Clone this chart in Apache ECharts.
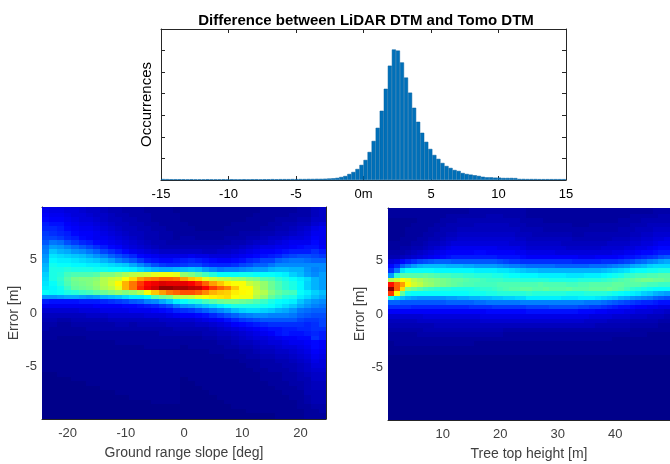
<!DOCTYPE html>
<html>
<head>
<meta charset="utf-8">
<style>html,body{margin:0;padding:0;background:#fff}#c{width:670px;height:464px}</style>
<script src="https://cdn.jsdelivr.net/npm/echarts@6/dist/echarts.min.js"></script>
</head>
<body>
<div id="c"></div>
<script>
const titleText = 'Difference between LiDAR DTM and Tomo DTM';
const histTickValues = [-15,-10,-5,0,5,10,15];
const histTickLabels = ['-15','-10','-5','0m','5','10','15'];
const histStart = -15, histBin = 0.3;
const histCounts = [45,40,35,35,35,35,30,35,30,30,30,35,30,30,30,35,30,35,30,30,35,30,35,35,30,35,35,40,35,40,40,40,45,40,45,45,50,50,55,55,
60,70,80,100,140,186,280,372,510,700,930,1300,1810,2420,3210,4230,5300,6050,6000,5450,4750,4050,3350,2700,2190,1770,1440,1160,980,790,650,560,465,420,325,280,250,220,190,150,125,125,110,110,95,95,95,90,50,50,45,45,45,40,40,40,40,40,40,40];
const slopeTicks = [-20,-10,0,10,20];
const heightTicks = [10,20,30,40];
const errorTicks = [-5,0,5];
const slopeStart = -23.75, slopeStep = 1.25;
const heightStart = 1, heightStep = 1;
const errorTop = 10, errorStep = 20/47;
// colour levels 0..100, rows from top (error +10 m) to bottom (-10 m)
const slopeGrid = [
[10,10,9,9,8,8,7,6,6,5,5,4,4,4,3,3,3,3,2,2,2,2,2,2,2,2,2,2,2,2,3,3,3,3,3,4,4,6,7],
[11,10,10,9,9,8,7,7,6,5,5,4,4,4,3,3,3,3,2,2,2,2,2,2,2,2,2,2,2,2,3,3,3,3,3,4,4,6,7],
[12,11,11,10,9,9,8,7,7,6,5,5,4,4,4,3,3,3,3,2,2,2,2,2,2,2,2,2,2,3,3,3,3,3,4,4,4,6,7],
[13,12,12,11,10,9,9,8,7,6,6,5,5,4,4,3,3,3,3,2,2,2,2,2,2,2,2,2,3,3,3,3,4,4,4,5,5,7,7],
[15,14,14,12,11,10,10,9,8,7,6,6,5,5,4,4,3,3,3,3,2,2,2,2,2,2,3,3,3,3,3,4,4,5,5,6,6,8,9],
[16,16,15,13,12,11,11,10,9,8,7,6,6,5,5,4,4,3,3,3,3,2,2,2,2,3,3,3,3,3,4,4,5,5,6,7,8,10,11],
[18,17,16,15,13,12,12,11,10,9,8,7,6,6,5,5,4,4,3,3,3,3,3,3,3,3,3,4,4,4,5,5,6,6,7,8,9,11,11],
[19,19,18,16,15,13,12,11,11,10,9,8,7,6,5,5,4,4,3,4,4,3,3,3,3,4,4,4,5,5,6,7,7,8,9,9,10,12,11],
[21,24,23,20,18,16,15,13,12,11,10,9,8,7,6,5,5,4,4,4,4,4,4,4,4,4,5,5,6,7,7,8,9,10,11,11,11,13,11],
[24,28,27,25,23,21,19,17,15,13,12,10,9,8,7,6,5,5,5,5,5,5,5,5,5,6,6,7,8,9,10,10,11,11,12,13,14,14,12],
[25,32,30,29,27,26,24,22,19,17,15,13,11,10,9,8,7,7,7,7,7,7,6,6,7,7,8,9,10,11,12,12,13,14,15,15,15,17,15],
[27,35,34,33,32,31,29,27,25,22,20,18,16,13,12,11,10,10,10,10,11,10,10,9,9,9,10,11,12,13,14,15,16,18,19,20,20,19,18],
[28,37,36,36,35,34,33,32,30,28,25,23,21,18,15,14,13,13,14,15,16,15,14,13,12,12,13,14,16,17,19,19,22,23,24,24,23,22,22],
[30,39,38,38,37,37,36,36,35,34,33,32,29,26,23,20,18,17,17,18,19,19,17,16,16,16,17,19,20,22,22,24,26,26,26,26,26,26,26],
[31,40,40,41,40,40,40,39,39,38,38,37,36,34,32,30,29,29,30,31,32,31,28,26,24,25,25,26,27,28,28,30,31,31,30,30,27,25,26],
[33,40,41,44,45,45,45,46,50,50,52,54,56,57,58,60,61,61,60,52,50,47,44,41,38,38,38,39,39,38,38,38,37,36,33,31,28,26,28],
[34,40,42,46,49,50,50,51,55,57,58,62,66,72,75,76,78,78,77,72,68,66,60,58,56,55,53,52,50,49,46,45,42,40,38,36,34,30,28],
[35,38,41,45,48,49,50,52,55,58,63,70,76,82,87,89,91,90,90,90,88,84,78,72,68,64,62,62,57,55,52,48,45,42,40,37,33,30,28],
[36,37,39,43,47,48,49,51,54,56,60,70,76,84,89,92,98,98,96,96,94,93,88,82,78,75,68,62,62,56,52,48,45,42,40,37,33,30,28],
[38,37,38,40,41,43,44,46,48,50,52,50,52,55,62,68,72,76,78,80,80,78,74,70,68,67,64,63,62,57,55,50,47,45,44,38,36,33,31],
[27,27,28,29,29,28,27,28,30,31,32,34,36,36,38,45,48,50,55,56,57,60,62,64,65,66,62,61,61,55,52,47,44,41,40,36,34,31,29],
[15,14,14,14,14,15,15,15,16,17,18,19,21,22,25,26,29,32,36,38,40,41,44,46,48,49,49,48,47,45,43,40,38,37,36,32,29,27,26],
[11,11,11,11,11,11,11,12,12,12,12,13,13,14,15,16,18,20,24,27,28,30,32,34,36,38,40,40,40,40,39,38,36,34,32,29,27,25,24],
[8,8,8,8,8,9,9,9,10,10,10,10,11,11,11,12,13,14,16,17,18,20,22,24,26,28,31,33,34,34,33,32,30,29,27,24,23,22,22],
[6,6,6,6,6,6,7,7,7,8,8,8,8,8,9,9,9,10,11,12,12,13,14,16,18,20,22,24,25,26,26,25,25,25,24,22,21,20,20],
[5,5,4,4,5,5,5,5,5,6,6,6,6,6,6,6,7,7,7,8,8,9,10,11,12,14,16,18,19,20,21,21,21,21,21,19,18,18,19],
[4,4,3,3,4,4,4,4,4,4,5,5,4,5,5,5,5,6,6,6,6,7,7,8,9,10,12,13,14,15,16,17,17,17,17,17,16,17,19],
[4,3,3,3,3,3,4,4,4,4,4,4,4,4,4,4,4,4,5,5,5,5,5,6,7,8,9,10,11,12,13,14,14,15,15,16,16,17,17],
[3,3,3,3,3,3,3,3,3,3,3,3,3,3,3,3,4,4,4,4,4,4,5,5,6,6,7,8,9,10,11,12,14,15,14,14,15,16,15],
[3,3,2,2,2,2,3,3,3,3,3,3,3,3,3,3,3,3,3,3,3,3,4,4,5,5,6,7,8,9,9,10,11,12,12,13,13,17,15],
[2,2,2,2,2,2,2,2,2,2,3,3,3,3,3,3,3,3,3,3,3,3,3,3,4,4,5,6,6,7,8,9,9,10,11,11,12,13,12],
[2,2,2,2,2,2,2,2,2,2,2,2,2,2,3,3,3,3,3,2,3,3,3,3,3,4,4,5,5,6,7,7,8,9,9,10,11,13,12],
[2,2,2,2,2,2,2,2,2,2,2,2,2,2,2,2,2,2,2,2,2,2,2,3,3,3,3,4,4,5,6,6,7,7,8,9,10,12,11],
[2,2,2,2,2,2,2,2,2,2,2,2,2,2,2,2,2,2,2,2,2,2,2,2,2,3,3,3,4,4,5,5,6,6,7,8,9,11,10],
[2,2,2,2,2,2,2,2,2,2,2,2,2,2,2,2,2,2,2,2,2,2,2,2,2,2,2,3,3,3,4,4,5,5,6,7,8,10,9],
[2,2,2,2,2,2,2,2,2,2,2,2,2,2,2,2,2,2,2,2,2,2,2,2,2,2,2,2,3,3,4,4,4,5,5,6,7,9,9],
[2,2,2,2,2,2,2,2,2,2,2,2,2,2,2,2,2,2,2,2,2,2,2,2,2,2,2,2,2,3,3,4,4,4,5,6,7,8,8],
[1,1,2,2,2,2,2,2,2,2,2,2,2,2,2,2,2,2,2,2,2,2,2,2,2,2,2,2,2,2,3,3,3,4,4,5,6,7,7],
[1,1,1,1,2,2,2,2,2,2,2,2,2,2,2,2,2,2,2,1,2,2,2,2,2,2,2,2,2,2,3,3,3,4,4,5,5,7,7],
[1,1,1,1,1,1,2,2,2,2,2,2,2,2,2,2,2,2,2,1,1,2,2,2,2,2,2,2,2,2,2,3,3,3,4,4,5,6,6],
[1,1,1,1,1,1,1,1,2,2,2,2,2,2,2,2,2,2,2,1,1,1,2,2,2,2,2,2,2,2,2,2,3,3,3,4,5,6,6],
[1,1,1,1,1,1,1,1,1,1,2,2,2,2,2,2,2,2,2,1,1,1,1,2,2,2,2,2,2,2,2,2,2,3,3,3,5,5,5],
[1,1,1,1,1,1,1,1,1,1,1,1,2,2,2,2,2,2,2,1,1,1,1,1,2,2,2,2,2,2,2,2,2,2,3,3,4,5,5],
[1,1,1,1,1,1,1,1,1,1,1,1,1,1,1,2,2,2,2,1,1,1,1,1,1,2,2,2,2,2,2,2,2,2,2,3,4,5,5],
[1,1,1,1,1,1,1,1,1,1,1,1,1,1,1,1,1,1,1,1,1,1,1,1,1,1,2,2,2,2,2,2,2,2,2,3,3,4,4],
[1,1,1,1,1,1,1,1,1,1,1,1,1,1,1,1,1,1,1,1,1,1,1,1,1,1,1,1,2,2,2,2,2,2,2,2,3,3,4],
[1,1,1,1,1,1,1,1,1,1,1,1,1,1,1,1,1,1,1,1,1,1,1,1,1,1,1,1,1,1,1,1,2,2,2,2,3,3,3],
[1,1,1,1,1,1,1,1,1,1,1,1,1,1,1,1,1,1,1,1,1,1,1,1,1,1,1,1,1,1,1,1,2,2,2,2,3,3,3]
];
const heightGrid = [
[3,3,3,3,3,3,3,3,3,3,3,3,3,3,4,4,4,4,4,4,4,4,4,4,3,3,3,3,3,3,3,3,3,3,3,3,3,3,3,3,3,3,3,3,3,3,4,4,4],
[3,3,3,3,3,3,3,3,3,3,3,3,3,3,4,4,4,4,4,4,4,4,4,4,3,3,3,3,3,3,3,3,3,3,3,3,3,3,3,3,3,3,3,3,3,3,4,4,4],
[3,3,3,3,3,3,3,3,3,3,4,4,4,4,4,4,4,5,5,5,4,4,4,4,3,3,3,3,3,3,3,3,3,3,3,3,3,3,3,3,3,3,4,4,4,4,4,5,5],
[2,2,2,2,2,3,3,3,3,4,4,4,5,5,5,5,5,5,5,5,5,5,5,4,4,4,4,3,3,3,3,3,3,3,3,3,3,3,3,3,4,4,4,4,5,5,5,5,5],
[2,2,2,2,3,3,3,3,4,4,5,5,5,5,5,6,6,6,6,6,6,5,5,5,4,4,4,4,4,4,4,4,3,3,3,4,4,4,4,4,4,4,5,5,5,6,6,6,6],
[2,2,2,3,3,3,3,4,4,5,5,5,6,6,6,6,6,6,6,6,6,6,6,5,5,5,5,4,4,4,4,4,4,4,4,4,4,4,4,4,5,5,5,6,6,6,7,7,7],
[2,2,2,3,3,3,4,4,5,5,6,6,7,7,7,7,7,7,7,7,7,7,6,6,6,5,5,5,5,5,5,5,4,4,5,5,5,5,5,5,5,5,6,6,7,7,8,8,8],
[2,2,3,3,3,4,4,5,5,6,7,7,8,8,8,8,8,8,8,8,8,8,7,7,6,6,6,6,6,6,6,6,5,5,5,5,5,5,5,6,6,6,7,7,8,8,9,9,10],
[3,3,3,3,4,4,5,6,6,7,8,9,9,9,9,9,9,9,9,9,9,8,8,8,7,7,7,7,7,7,6,6,6,6,6,6,6,6,7,7,7,7,8,8,9,9,10,11,11],
[3,3,4,4,5,5,6,7,8,9,10,11,11,11,11,11,11,11,11,10,10,10,10,9,8,8,8,8,8,8,8,7,7,7,7,7,7,8,8,8,8,9,9,10,10,11,12,13,13],
[4,4,4,5,6,7,8,9,10,11,12,12,12,12,12,13,13,12,12,12,12,12,11,11,10,10,10,10,10,9,9,9,9,9,9,9,9,9,9,10,10,11,11,12,13,13,14,15,15],
[5,5,6,7,8,9,10,11,12,13,14,15,15,15,15,15,15,15,15,14,14,14,14,13,12,12,12,12,12,12,12,12,12,11,11,11,12,12,12,12,13,14,14,15,16,17,18,20,21],
[9,10,13,15,17,19,20,21,22,22,22,21,21,21,21,21,21,21,21,20,19,18,18,17,17,17,17,17,17,17,17,17,16,16,16,16,16,17,17,17,18,19,20,22,23,25,26,28,29],
[13,16,22,25,28,30,31,31,31,31,30,30,30,29,29,28,28,28,28,27,26,25,25,24,23,23,23,23,23,22,22,22,22,22,22,23,23,23,24,25,26,27,29,30,31,33,34,34,34],
[17,24,35,38,38,38,38,38,37,37,37,37,37,37,37,36,36,36,36,35,35,34,33,32,31,31,30,30,30,30,30,30,30,30,30,30,30,31,32,33,34,35,37,38,38,39,39,40,40],
[28,42,46,46,46,46,47,46,45,44,44,43,43,42,42,41,41,41,40,40,39,38,38,37,37,37,36,36,36,36,36,35,35,35,36,36,36,37,38,39,40,42,43,44,44,45,45,46,46],
[55,58,62,60,56,54,52,51,50,49,48,47,47,46,45,45,44,43,43,43,42,42,42,41,41,41,41,41,40,40,40,40,40,41,41,41,41,42,43,44,45,46,47,48,49,49,48,48,47],
[86,78,72,63,58,56,53,52,50,49,48,47,46,45,45,44,44,44,44,45,45,45,45,45,45,45,46,45,45,45,45,44,44,45,45,46,46,46,46,47,47,46,46,46,45,44,44,43,43],
[98,78,66,50,48,46,44,43,42,41,41,40,40,40,40,41,42,42,43,44,45,46,46,47,47,46,46,47,46,46,46,47,46,46,46,47,47,47,48,47,46,44,42,41,40,39,38,38,38],
[82,62,47,39,38,38,38,38,38,38,38,38,38,38,39,39,39,40,40,41,41,41,41,41,42,41,41,41,41,41,41,40,40,40,41,41,41,41,40,39,38,37,36,35,33,32,30,29,28],
[40,34,31,29,28,27,27,27,27,27,28,28,29,29,30,30,31,31,32,32,33,33,34,34,36,36,36,36,36,36,35,35,35,36,36,36,35,34,33,32,30,29,27,26,25,24,22,21,20],
[22,22,21,21,21,21,21,21,21,21,22,22,22,22,22,23,23,24,24,24,24,24,24,25,25,25,25,25,25,25,25,25,25,25,24,24,24,23,22,21,20,19,18,17,16,16,15,14,14],
[17,17,17,17,16,16,16,16,16,16,16,16,16,16,17,17,17,17,18,18,18,18,18,18,19,19,19,19,20,20,20,20,20,19,19,18,18,17,16,15,14,14,13,12,12,11,11,10,10],
[12,12,12,12,12,12,12,12,12,12,12,12,12,12,12,12,12,13,13,13,13,13,13,13,14,14,14,14,14,14,14,14,14,13,13,13,12,12,11,11,11,10,10,9,9,9,8,8,7],
[8,8,8,8,8,8,9,9,9,9,9,9,9,9,9,9,10,10,10,10,10,10,10,10,10,10,10,10,10,10,10,10,10,10,10,9,9,9,9,8,8,8,7,7,7,6,6,6,5],
[6,6,6,6,6,7,7,7,7,7,7,7,7,7,7,7,8,8,8,8,8,8,8,8,8,8,8,8,8,8,8,8,8,8,7,7,7,7,6,6,6,6,5,5,5,5,5,4,4],
[5,5,5,5,5,5,5,5,6,6,6,6,6,6,6,6,6,6,6,6,6,6,6,6,6,6,6,6,6,6,6,6,6,6,6,6,5,5,5,5,5,5,4,4,4,4,4,3,3],
[4,4,4,4,4,4,5,5,5,5,5,5,5,5,5,5,5,5,5,5,4,4,4,4,4,4,4,4,4,4,4,4,4,4,4,4,4,4,4,4,4,4,3,3,3,3,3,3,3],
[3,3,3,3,3,4,4,4,4,4,4,4,4,4,4,4,4,4,4,4,3,3,3,3,3,3,3,3,3,3,3,3,3,3,3,3,3,3,3,3,3,3,3,3,3,2,2,2,2],
[3,3,3,3,3,3,3,3,3,3,3,3,3,3,3,3,3,3,3,3,3,3,3,3,3,3,3,3,3,3,3,3,3,3,3,3,3,3,3,2,2,2,2,2,2,2,2,2,2],
[2,3,3,3,3,3,3,3,3,3,3,3,3,3,3,2,2,2,2,2,2,2,2,2,2,2,2,2,2,2,2,2,2,2,2,2,2,2,2,2,2,2,2,2,2,2,2,2,2],
[2,2,2,2,2,2,2,2,2,2,2,2,2,2,2,2,2,2,2,2,2,2,2,2,2,2,2,2,2,2,2,2,2,2,2,2,2,2,2,2,2,2,2,2,2,2,2,2,2],
[2,2,2,2,2,2,2,2,2,2,2,2,2,2,2,2,2,2,2,2,2,2,2,2,2,2,2,2,2,2,2,2,2,2,2,2,2,2,2,2,2,2,2,2,2,2,2,2,2],
[1,1,1,1,1,1,1,1,1,1,1,1,1,1,1,1,1,1,1,1,1,1,1,1,1,1,1,1,1,1,1,1,1,1,1,1,1,1,1,1,1,1,1,1,1,1,1,1,1],
[1,1,1,1,1,1,1,1,1,1,1,1,1,1,1,1,1,1,1,1,1,1,1,1,1,1,1,1,1,1,1,1,1,1,1,1,1,1,1,1,1,1,1,1,1,1,1,1,1],
[1,1,1,1,1,1,1,1,1,1,1,1,1,1,1,1,1,1,1,1,1,1,1,1,1,1,1,1,1,1,1,1,1,1,1,1,1,1,1,1,1,1,1,1,1,1,1,1,1],
[1,1,1,1,1,1,1,1,1,1,1,1,1,1,1,1,1,1,1,1,1,1,1,1,1,1,1,1,1,1,1,1,1,1,1,1,1,1,1,1,1,1,1,1,1,1,1,1,1],
[1,1,1,1,1,1,1,1,1,1,1,1,1,1,1,1,1,1,1,1,1,1,1,1,1,1,1,1,1,1,1,1,1,1,1,1,1,1,1,1,1,1,1,1,1,1,1,1,1],
[1,1,1,1,1,1,1,1,1,1,1,1,1,1,1,1,1,1,1,1,1,1,1,1,1,1,1,1,1,1,1,1,1,1,1,1,1,1,1,1,1,1,1,1,1,1,1,1,1],
[1,1,1,1,1,1,1,1,1,1,1,1,1,1,1,1,1,1,1,1,1,1,1,1,1,1,1,1,1,1,1,1,1,1,1,1,1,1,1,1,1,1,1,1,1,1,1,1,1],
[1,1,1,1,1,1,1,1,1,1,1,1,1,1,1,1,1,1,1,1,1,1,1,1,1,1,1,1,1,1,1,1,1,1,1,1,1,1,1,1,1,1,1,1,1,1,1,1,1],
[1,1,1,1,1,1,1,1,1,1,1,1,1,1,1,1,1,1,1,1,1,1,1,1,1,1,1,1,1,1,1,1,1,1,1,1,1,1,1,1,1,1,1,1,1,1,1,1,1],
[1,1,1,1,1,1,1,1,1,1,1,1,1,1,1,1,1,1,1,1,1,1,1,1,1,1,1,1,1,1,1,1,1,1,1,1,1,1,1,1,1,1,1,1,1,1,1,1,1],
[1,1,1,1,1,1,1,1,1,1,1,1,1,1,1,1,1,1,1,1,1,1,1,1,1,1,1,1,1,1,1,1,1,1,1,1,1,1,1,1,1,1,1,1,1,1,1,1,1],
[1,1,1,1,1,1,1,1,1,1,1,1,1,1,1,1,1,1,1,1,1,1,1,1,1,1,1,1,1,1,1,1,1,1,1,1,1,1,1,1,1,1,1,1,1,1,1,1,1],
[1,1,1,1,1,1,1,1,1,1,1,1,1,1,1,1,1,1,1,1,1,1,1,1,1,1,1,1,1,1,1,1,1,1,1,1,1,1,1,1,1,1,1,1,1,1,1,1,1],
[1,1,1,1,1,1,1,1,1,1,1,1,1,1,1,1,1,1,1,1,1,1,1,1,1,1,1,1,1,1,1,1,1,1,1,1,1,1,1,1,1,1,1,1,1,1,1,1,1],
[1,1,1,1,1,1,1,1,1,1,1,1,1,1,1,1,1,1,1,1,1,1,1,1,1,1,1,1,1,1,1,1,1,1,1,1,1,1,1,1,1,1,1,1,1,1,1,1,1]
];

const FONT = '"Liberation Sans", Arial, sans-serif';
const AXC = '#262626';
const GREY = '#404040';
const jet = ['#000080','#0000ff','#0080ff','#00ffff','#80ff80','#ffff00','#ff8000','#ff0000','#800000'];

function cells(grid, x0, dx) {
  const out = [];
  grid.forEach((row, t) => row.forEach((v, c) => out.push([x0 + c * dx, errorTop - t * errorStep, v])));
  return out;
}
function cellRenderer(dx) {
  return function (params, api) {
    const x = api.value(0), y = api.value(1);
    const a = api.coord([x - dx / 2, y + errorStep / 2]);
    const b = api.coord([x + dx / 2, y - errorStep / 2]);
    const x0 = Math.round(a[0]), x1 = Math.round(b[0]), y0 = Math.round(a[1]), y1 = Math.round(b[1]);
    return { type: 'rect', shape: { x: x0, y: y0, width: x1 - x0, height: y1 - y0 }, style: { fill: api.visual('color') } };
  };
}
const line = { show: true, onZero: false, lineStyle: { color: AXC, width: 1 } };
function xPair(gridIndex, min, max, ticks, labels, name, color) {
  const tickStyle = { show: true, inside: true, length: 4, customValues: ticks, lineStyle: { color: AXC, width: 1 } };
  const labelMap = (v) => labels[ticks.indexOf(v)];
  return [
    { type: 'value', gridIndex, position: 'bottom', min, max, axisLine: line, axisTick: tickStyle, splitLine: { show: false },
      axisLabel: { show: true, customValues: ticks, formatter: labelMap, color, fontFamily: FONT, fontSize: 13, margin: 8, hideOverlap: false, showMinLabel: true, showMaxLabel: true },
      name, nameLocation: 'middle', nameGap: 27, nameTextStyle: { color: GREY, fontFamily: FONT, fontSize: 14 } },
    { type: 'value', gridIndex, position: 'top', min, max, axisLine: line, axisTick: tickStyle, axisLabel: { show: false }, splitLine: { show: false } }
  ];
}
function yPair(gridIndex, min, max, ticks, name, nameGap, nameSize, nameColor, showLabels) {
  const tickStyle = { show: true, inside: true, length: 4, customValues: ticks, lineStyle: { color: AXC, width: 1 } };
  return [
    { type: 'value', gridIndex, position: 'left', min, max, axisLine: line, axisTick: tickStyle, splitLine: { show: false },
      axisLabel: showLabels ? { show: true, customValues: ticks, color: GREY, fontFamily: FONT, fontSize: 13, margin: 5 } : { show: false },
      name, nameLocation: 'middle', nameGap, nameTextStyle: { color: nameColor, fontFamily: FONT, fontSize: nameSize } },
    { type: 'value', gridIndex, position: 'right', min, max, axisLine: line, axisTick: tickStyle, axisLabel: { show: false }, splitLine: { show: false } }
  ];
}
const histYTicks = [1000,2000,3000,4000,5000,6000];
const chart = echarts.init(document.getElementById('c'), null, { renderer: 'canvas' });
chart.setOption({
  animation: false,
  backgroundColor: '#ffffff',
  title: { text: titleText, left: 361, top: 8, textAlign: 'center',
    textStyle: { color: '#000', fontFamily: FONT, fontSize: 15, fontWeight: 'bold' } },
  grid: [
    { left: 161, top: 29, width: 405, height: 151 },
    { left: 42, top: 207, width: 284, height: 212 },
    { left: 388, top: 208, width: 284, height: 212 }
  ],
  xAxis: [
    ...xPair(0, -15, 15, histTickValues, histTickLabels, '', '#000'),
    ...xPair(1, -24.4, 24.4, slopeTicks, slopeTicks.map(String), 'Ground range slope [deg]', GREY),
    ...xPair(2, 0.5, 49.5, heightTicks, heightTicks.map(String), 'Tree top height [m]', GREY)
  ],
  yAxis: [
    ...yPair(0, 0, 7000, histYTicks, 'Occurrences', 7, 15, '#000', false),
    ...yPair(1, -9.9, 9.9, errorTicks, 'Error [m]', 15, 14, GREY, true),
    ...yPair(2, -9.9, 9.9, errorTicks, 'Error [m]', 15, 14, GREY, true)
  ],
  visualMap: { show: false, type: 'continuous', min: 0, max: 100, dimension: 2, seriesIndex: [1, 2], inRange: { color: jet } },
  series: [
    { type: 'bar', xAxisIndex: 0, yAxisIndex: 0, barWidth: 4.05,
      itemStyle: { color: '#0070b9', borderColor: '#005f9e', borderWidth: 0.5 },
      data: histCounts.map((v, i) => [histStart + (i + 0.5) * histBin, v]) },
    { type: 'custom', xAxisIndex: 2, yAxisIndex: 2, clip: true, progressive: 0, renderItem: cellRenderer(slopeStep), encode: { x: 0, y: 1 },
      data: cells(slopeGrid, slopeStart, slopeStep) },
    { type: 'custom', xAxisIndex: 4, yAxisIndex: 4, clip: true, progressive: 0, renderItem: cellRenderer(heightStep), encode: { x: 0, y: 1 },
      data: cells(heightGrid, heightStart, heightStep) }
  ]
});
</script>
</body>
</html>
